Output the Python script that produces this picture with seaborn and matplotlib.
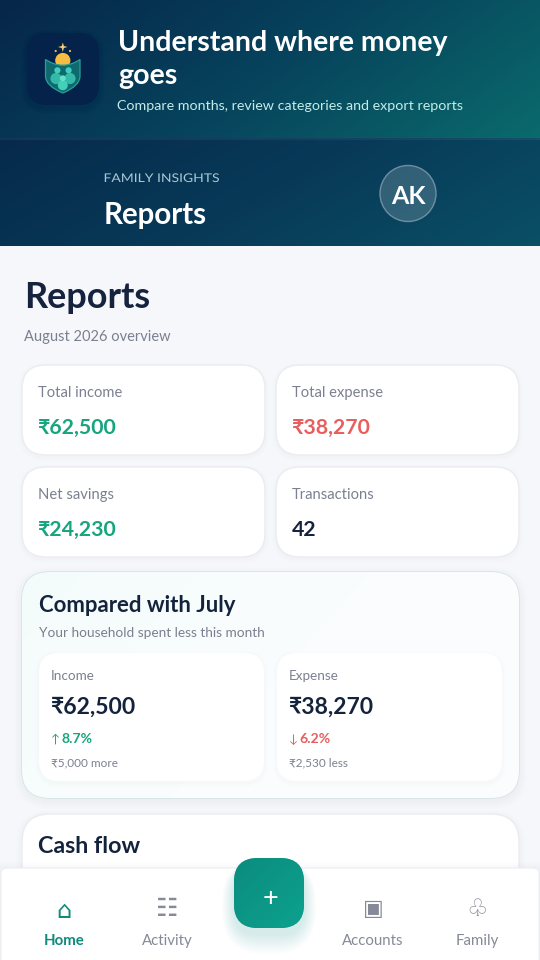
import numpy as np
import matplotlib
matplotlib.use("Agg")
import matplotlib.pyplot as plt
import matplotlib.patheffects as pe
from matplotlib.patches import FancyBboxPatch, Circle, Rectangle, Polygon, PathPatch
from matplotlib.path import Path
from matplotlib.colors import LinearSegmentedColormap
from matplotlib.transforms import Affine2D
import seaborn as sns

# ---- content ----
hero_title = ["Understand where money", "goes"]
hero_sub = "Compare months, review categories and export reports"
eyebrow = "FAMILY INSIGHTS"
header_title = "Reports"
initials = "AK"
page_title = "Reports"
page_sub = "August 2026 overview"
stat_labels = ["Total income", "Total expense", "Net savings", "Transactions"]
stat_values = ["₹62,500", "₹38,270", "₹24,230", "42"]
compare_title = "Compared with July"
compare_sub = "Your household spent less this month"
cmp_labels = ["Income", "Expense"]
cmp_values = ["₹62,500", "₹38,270"]
cmp_arrows = ["↑", "↓"]
cmp_changes = ["8.7%", "6.2%"]
cmp_notes = ["₹5,000 more", "₹2,530 less"]
next_title = "Cash flow"
nav_labels = ["Home", "Activity", "Accounts", "Family"]
nav_icons = ["⌂", "☷", "▣", "♧"]

sns.set_theme(style="white")
FONT = ["Lato", "DejaVu Sans"]
plt.rcParams["font.family"] = FONT

INK, MUTED, GREEN, RED = "#16233f", "#7b8090", "#17a57e", "#e85d5d"
TEAL, NAVGREY = "#0f8a7d", "#868a98"

fig = plt.figure(figsize=(5.4, 9.6), dpi=100, facecolor="#f5f7fb")
ax = fig.add_axes([0, 0, 1, 1])
ax.set_xlim(0, 540)
ax.set_ylim(960, 0)
ax.axis("off")


def px(size):
    return size * 0.72


def txt(x, y, s, size, color, weight="normal", ha="left", va="baseline", z=10, **kw):
    return ax.text(x, y, s, fontsize=px(size), color=color, fontweight=weight,
                   ha=ha, va=va, zorder=z, family=kw.pop("family", FONT), **kw)


def rbox(x0, y0, x1, y1, r, fc, ec="none", lw=0.0, z=3, alpha=None):
    p = FancyBboxPatch((x0 + r, y0 + r), x1 - x0 - 2 * r, y1 - y0 - 2 * r,
                       boxstyle=f"round,pad={r},rounding_size={r}", fc=fc, ec=ec,
                       lw=lw, zorder=z, alpha=alpha)
    ax.add_patch(p)
    return p


def shadow(x0, y0, x1, y1, r, color, spread=8, dy=3, peak=0.012, z=2):
    for i in range(spread, 0, -1):
        rbox(x0 - i, y0 - i + dy, x1 + i, y1 + i + dy, r + i, color, z=z, alpha=peak)


def gradient(x0, y0, x1, y1, c0, c1, c2=None, angle=0.35, z=1, clip=None):
    h, w = 60, 120
    yy, xx = np.mgrid[0:1:h * 1j, 0:1:w * 1j]
    t = (xx + angle * yy) / (1 + angle)
    cols = [c0, c1] if c2 is None else [c0, c1, c2]
    cmap = LinearSegmentedColormap.from_list("g", cols)
    im = ax.imshow(t, extent=(x0, x1, y1, y0), cmap=cmap, vmin=0, vmax=1,
                   aspect="auto", zorder=z, interpolation="bilinear")
    if clip is not None:
        im.set_clip_path(clip)
    return im


class StretchX(pe.AbstractPathEffect):
    """Widen text about its left edge, used for letter-spaced caps."""

    def __init__(self, x0, factor):
        super().__init__()
        self.x0, self.factor = x0, factor

    def draw_path(self, renderer, gc, tpath, affine, rgbFace=None):
        a = affine + Affine2D().translate(-self.x0, 0).scale(self.factor, 1).translate(self.x0, 0)
        renderer.draw_path(gc, tpath, a, rgbFace)


# ---- header ----
gradient(0, 0, 540, 138, "#06264a", "#07435c", "#0a6a6c")
gradient(0, 138, 540, 246, "#062a4c", "#083a58", "#0a4f66")
ax.add_patch(Rectangle((0, 137.5), 540, 1, fc="#ffffff", alpha=0.04, zorder=2))

# logo tile
shadow(27, 33, 99, 105, 20, "#021a33", spread=6, dy=3, peak=0.025, z=2)
rbox(27, 33, 99, 105, 20, "#04224a", z=3)
ax.add_patch(Circle((62.8, 60.5), 7.6, fc="#f6bd42", ec="none", zorder=4))
shield = Path([(45.5, 59.5), (62.8, 71), (80, 59.5), (80, 76), (80, 86), (62.8, 93),
               (45.5, 86), (45.5, 76), (45.5, 59.5)],
              [Path.MOVETO, Path.CURVE3, Path.CURVE3, Path.LINETO, Path.CURVE3, Path.CURVE3,
               Path.CURVE3, Path.CURVE3, Path.CLOSEPOLY])
ax.add_patch(PathPatch(shield, fc="#0d6a6e", ec="#2a9f98", lw=0.9, zorder=5))
for cx, cy, r, c in [(56, 78.5, 5.6, "#34b9a8"), (70, 78.5, 5.6, "#34b9a8"),
                     (57.4, 70.3, 3.1, "#43cdb8"), (68.6, 70.3, 3.1, "#43cdb8"),
                     (62.8, 85.3, 5.0, "#43cfb8"), (62.8, 78.3, 3.0, "#62e0c8")]:
    ax.add_patch(Circle((cx, cy), r, fc=c, ec="none", zorder=6))
ax.add_patch(Polygon([(62.8, 42.5), (63.9, 46), (67.5, 47), (63.9, 48), (62.8, 52), (61.7, 48),
                      (58, 47), (61.7, 46)], fc="#f6cd70", ec="none", zorder=6))
ax.add_patch(Circle((55.7, 51), 1.1, fc="#e8b95e", ec="none", zorder=6))
ax.add_patch(Circle((70, 51), 1.1, fc="#e8b95e", ec="none", zorder=6))

txt(118, 51, hero_title[0], 28.5, "white", "bold")
txt(118, 84, hero_title[1], 28.5, "white", "bold")
txt(117, 110, hero_sub, 14.2, "#c4ece8")

lab = txt(103.5, 182, eyebrow, 12, "#a9c9d6")
lab.set_path_effects([StretchX(103.5, 1.16)])
txt(104, 224, header_title, 29.5, "white", "bold")
ax.add_patch(Circle((408, 193.5), 28, fc="#ffffff", alpha=0.17, ec="none", zorder=3))
ax.add_patch(Circle((408, 193.5), 28, fc="none", ec="#6f8ea3", lw=1.0, zorder=4))
txt(408, 203.5, initials, 25, "white", "bold", ha="center")

# ---- page ----
ax.add_patch(Rectangle((0, 246), 540, 714, fc="#f5f7fb", ec="none", zorder=0.5))
txt(24, 308, page_title, 36, INK, "bold")
txt(24, 341, page_sub, 14.6, MUTED)

# stat cards
card_x = [(22, 265), (276, 519)]
card_y = [(365, 455), (467, 557)]
val_cols = [GREEN, RED, GREEN, INK]
for i, (lb, v, c) in enumerate(zip(stat_labels, stat_values, val_cols)):
    x0, x1 = card_x[i % 2]
    y0, y1 = card_y[i // 2]
    shadow(x0, y0, x1, y1, 24, "#9aa6bb", spread=4, dy=2, peak=0.006)
    rbox(x0, y0, x1, y1, 24, "white", ec="#eaecf1", lw=1.0)
    txt(x0 + 16, y0 + 32, lb, 14.7, MUTED)
    txt(x0 + 16, y0 + 69, v, 21.3, c, "bold")

# comparison card
shadow(22, 572, 519, 798, 28, "#8aa3ae", spread=8, dy=3, peak=0.006)
pc = rbox(22, 572, 519, 798, 28, "#f8fcfc", ec="#d5e4e6", lw=1.2)
im = gradient(22, 572, 519, 798, "#f4fcfb", "#fafdfd", "#fbfcfd", angle=0.4, z=3.1, clip=pc)
txt(39, 612, compare_title, 22.2, "#14233c", "bold")
txt(39, 637, compare_sub, 13.6, MUTED)
inner_x = [(39, 264), (277, 502)]
for i in range(2):
    x0, x1 = inner_x[i]
    col = GREEN if i == 0 else RED
    shadow(x0, 653, x1, 781, 20, "#d5e2e5", spread=4, dy=2, peak=0.01, z=3.5)
    rbox(x0, 653, x1, 781, 20, "white", z=4)
    txt(x0 + 12, 680, cmp_labels[i], 13.5, MUTED)
    txt(x0 + 12, 714, cmp_values[i], 22.9, "#14233c", "bold")
    txt(x0 + 12, 743, cmp_arrows[i], 12, col)
    txt(x0 + 22, 743, cmp_changes[i], 14, col, "bold")
    txt(x0 + 12, 766, cmp_notes[i], 11.7, MUTED)

# cash-flow card, cut off by the nav bar
shadow(22, 814, 519, 900, 28, "#9aa6bb", spread=6, dy=2, peak=0.006)
rbox(22, 814, 519, 900, 28, "white", ec="#eaecf1", lw=1.0)
txt(38, 853, next_title, 23.2, "#14233c", "bold")

# ---- bottom nav ----
for i in range(6, 0, -1):
    ax.add_patch(Rectangle((0, 868 - i), 540, 100, fc="#8d99ad", alpha=0.007, zorder=6))
rbox(1, 868, 539, 975, 6, "white", ec="#eceef3", lw=0.8, z=7)
for i in range(20, 0, -2):
    rbox(234 - i * 0.6, 858 - i * 0.4 + 9, 304 + i * 0.6, 928 + i + 6, 24 + i, "#35b5a5", z=7.5, alpha=0.018)
rb = rbox(234, 858, 304, 928, 24, "#0c9585", z=8)
gradient(234, 858, 304, 928, "#0b8c7e", "#0da18e", angle=1.0, z=8.1, clip=rb)
ax.set_xlim(0, 540)
ax.set_ylim(960, 0)
txt(270, 896, "+", 27, "white", ha="center", va="center_baseline", z=9)

nav_x = [64, 167, 373, 477]
nav_cols = [TEAL, NAVGREY, NAVGREY, NAVGREY]
icon_size = [24, 25, 22, 24]
icon_base = [918, 916, 915, 916]
for i, (x, lb, ic, c) in enumerate(zip(nav_x, nav_labels, nav_icons, nav_cols)):
    txt(x, 945, lb, 15, c, "bold" if i == 0 else "normal", ha="center", z=9)
    txt(x, icon_base[i], ic, icon_size[i], c, ha="center", z=9, family=["DejaVu Sans"])

fig.savefig("out.png", dpi=100, facecolor=fig.get_facecolor())
